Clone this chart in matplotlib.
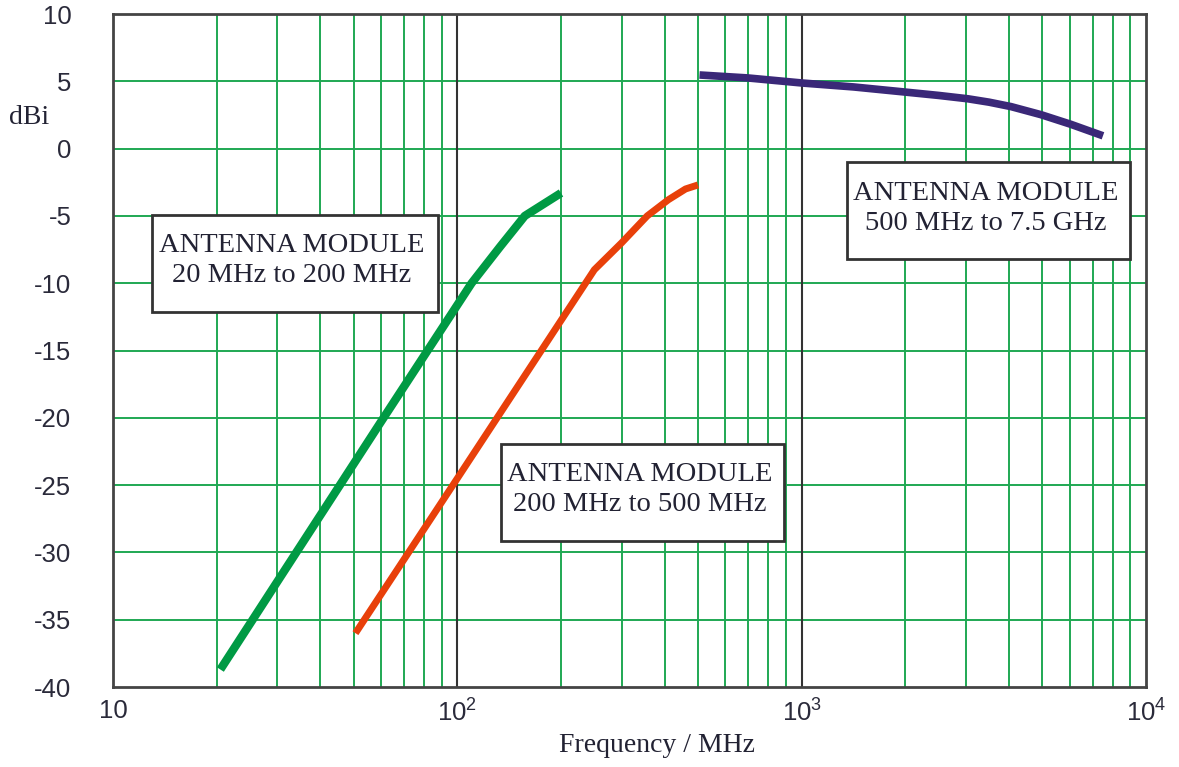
import numpy as np
import matplotlib
matplotlib.use('Agg')
import matplotlib.pyplot as plt
from matplotlib.ticker import FixedLocator, NullFormatter

plt.rcParams['mathtext.fontset'] = 'custom'
plt.rcParams['mathtext.rm'] = 'Liberation Sans'
plt.rcParams['mathtext.default'] = 'regular'

# données (fréquence en MHz, gain en dBi)
f_vhf = [20.5, 60, 110, 133, 157, 200]
g_vhf = [-38.7, -20.3, -10.0, -7.3, -5.0, -3.3]

f_uhf = [50.6, 100, 250, 300, 356, 410, 460, 500]
g_uhf = [-36.0, -24.5, -9.0, -7.0, -5.0, -3.8, -3.0, -2.7]

f_shf = [505, 697, 1006, 1416, 1980, 2500, 3040, 3500, 4055, 4955, 6057, 7500]
g_shf = [5.47, 5.25, 4.87, 4.58, 4.21, 3.95, 3.7, 3.45, 3.12, 2.52, 1.8, 0.95]

y_ticks = [10, 5, 0, -5, -10, -15, -20, -25, -30, -35, -40]
x_ticks = [10, 100, 1000, 10000]
x_labels = ['10', '$10^{2}$', '$10^{3}$', '$10^{4}$']

labels = [('ANTENNA MODULE', '20 MHz to 200 MHz'),
          ('ANTENNA MODULE', '200 MHz to 500 MHz'),
          ('ANTENNA MODULE', '500 MHz to 7.5 GHz')]

W, H = 1179, 767
fig = plt.figure(figsize=(W/100, H/100), dpi=100)
ax = fig.add_axes([113/W, 80/H, 1033/W, 673/H])
ax.set_xscale('log')
ax.set_xlim(10, 10000)
ax.set_ylim(-40, 10)

# grille verte + lignes noires aux décades
vert = '#1fa853'
minor = [m * 10**d for d in range(1, 4) for m in range(2, 10)]
for x in minor:
    ax.axvline(x, color=vert, lw=1.4, zorder=1)
for y in y_ticks[1:-1]:
    ax.axhline(y, color=vert, lw=1.4, zorder=1)
for x in [100, 1000]:
    ax.axvline(x, color='#333333', lw=1.5, zorder=1.5)

ax.plot(f_vhf, g_vhf, color='#009a44', lw=6, solid_capstyle='butt',
        solid_joinstyle='round', zorder=3)
ax.plot(f_uhf, g_uhf, color='#e8400a', lw=5, solid_capstyle='butt',
        solid_joinstyle='round', zorder=3)
ax.plot(f_shf, g_shf, color='#3a2878', lw=5.5, solid_capstyle='butt',
        solid_joinstyle='round', zorder=3)

ax.xaxis.set_major_locator(FixedLocator(x_ticks))
ax.xaxis.set_minor_formatter(NullFormatter())
ax.set_xticks(x_ticks)
ax.set_xticklabels(x_labels)
ax.set_yticks(y_ticks)
ax.set_yticklabels([str(v) for v in y_ticks])
ax.tick_params(which='both', length=0)
ax.tick_params(axis='y', pad=30, labelsize=18.5, labelcolor='#2a2a3a')
ax.tick_params(axis='x', pad=9, labelsize=18.5, labelcolor='#2a2a3a')
for t in ax.get_xticklabels() + ax.get_yticklabels():
    t.set_family('Liberation Sans')

for s in ax.spines.values():
    s.set_color('#444444')
    s.set_linewidth(2)
    s.set_zorder(4)

# boîtes de texte (coordonnées pixels -> fraction de la figure)
boxes = [(152, 215, 438, 312), (501, 444, 784, 541), (847, 162, 1130, 259)]
for (x0, y0, x1, y1), (l1, l2) in zip(boxes, labels):
    r = plt.Rectangle((x0/W, 1 - y1/H), (x1-x0)/W, (y1-y0)/H,
                      transform=fig.transFigure, facecolor='white',
                      edgecolor='#333333', lw=2, zorder=5)
    fig.add_artist(r)
    xc = (x0 + x1) / 2 - 3
    fig.text(xc/W, 1 - (y0+31)/H, l1, ha='center', va='center',
             family='Liberation Serif', fontsize=20.5, color='#222233', zorder=6)
    fig.text(xc/W, 1 - (y0+61)/H, l2, ha='center', va='center',
             family='Liberation Serif', fontsize=20.5, color='#222233', zorder=6)

fig.text(29/W, 1 - 118/H, 'dBi', ha='center', va='center',
         family='Liberation Serif', fontsize=20, color='#222233')
fig.text(657/W, 1 - 745/H, 'Frequency / MHz', ha='center', va='center',
         family='Liberation Serif', fontsize=20, color='#222233')

fig.savefig('out.png', dpi=100)
